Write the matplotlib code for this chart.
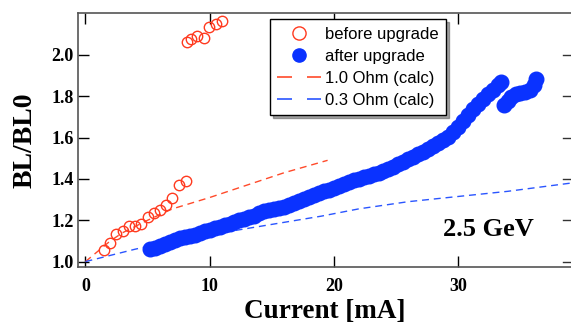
import matplotlib
matplotlib.use("Agg")
import matplotlib.pyplot as plt
from matplotlib.lines import Line2D

# ---- data ----
before_x = [1.5, 2.0, 2.5, 3.0, 3.5, 4.0, 4.5, 5.0, 5.5, 6.0, 6.5, 7.0, 7.55, 8.06,
            8.14, 8.5, 8.97, 9.54, 9.97, 10.5, 10.96]
before_y = [1.057, 1.092, 1.133, 1.148, 1.173, 1.173, 1.180, 1.218, 1.237, 1.250, 1.274,
            1.310, 1.371, 1.392, 2.064, 2.076, 2.093, 2.081, 2.134, 2.150, 2.166]

after_x = [5.2, 5.6, 6.0, 6.4, 6.8, 7.2, 7.6, 8.0, 8.4, 8.8, 9.2, 9.6, 10.0, 10.4, 10.8,
           11.2, 11.6, 12.0, 12.4, 12.8, 13.2, 13.6, 14.0, 14.4, 14.8, 15.2, 15.6, 16.0,
           16.4, 16.8, 17.2, 17.6, 18.0, 18.4, 18.8, 19.2, 19.6, 20.0, 20.4, 20.8, 21.2,
           21.6, 22.0, 22.4, 22.8, 23.2, 23.6, 24.0, 24.4, 24.8, 25.2, 25.6, 26.0, 26.4,
           26.8, 27.2, 27.6, 28.0, 28.4, 28.8, 29.2, 29.6, 30.0, 30.4, 30.8, 31.2, 31.6,
           32.0, 32.4, 32.8, 33.2, 33.5,
           33.7, 34.0, 34.3, 34.7, 35.0, 35.4, 35.8, 36.1, 36.3]
after_y = [1.060, 1.068, 1.077, 1.086, 1.094, 1.104, 1.112, 1.118, 1.124, 1.131, 1.139,
           1.146, 1.153, 1.161, 1.168, 1.176, 1.183, 1.191, 1.199, 1.207, 1.214, 1.222,
           1.233, 1.243, 1.248, 1.253, 1.258, 1.265, 1.273, 1.282, 1.292, 1.302, 1.312,
           1.322, 1.332, 1.340, 1.348, 1.355, 1.364, 1.374, 1.385, 1.394, 1.401, 1.408,
           1.415, 1.423, 1.431, 1.439, 1.447, 1.458, 1.470, 1.482, 1.495, 1.508, 1.520,
           1.532, 1.545, 1.558, 1.572, 1.587, 1.603, 1.625, 1.653, 1.682, 1.710, 1.737,
           1.763, 1.788, 1.810, 1.832, 1.853, 1.870,
           1.758, 1.775, 1.795, 1.812, 1.818, 1.823, 1.832, 1.855, 1.885]

calc10_x = [0, 1, 2, 3, 4, 5, 7, 10, 13, 16, 19.5]
calc10_y = [1.0, 1.05, 1.10, 1.14, 1.17, 1.20, 1.255, 1.31, 1.37, 1.43, 1.49]

calc03_x = [0, 2, 4, 7, 10, 14, 19, 22, 26, 30, 34, 39.1]
calc03_y = [1.0, 1.03, 1.06, 1.10, 1.13, 1.17, 1.22, 1.255, 1.29, 1.315, 1.34, 1.38]

x_ticks = [0, 10, 20, 30]
y_ticks = [1.0, 1.2, 1.4, 1.6, 1.8, 2.0]

RED = "#ff3a1f"
BLUE = "#0a32ff"
RED_L = "#ff4a2a"
BLUE_L = "#2a55ff"

fig = plt.figure(figsize=(5.71, 3.24), dpi=100)
ax = fig.add_axes([0.1366, 0.176, 0.8634, 0.784])

ax.plot(calc10_x, calc10_y, color=RED_L, lw=1.0, dashes=(5, 3.5))
ax.plot(calc03_x, calc03_y, color=BLUE_L, lw=1.0, dashes=(5, 3.5))
ax.plot(after_x, after_y, 'o', color=BLUE, ms=10.5, mec=BLUE, ls='none')
ax.plot(before_x, before_y, 'o', mfc='none', mec=RED, ms=7.5, mew=1.0, ls='none')

ax.set_xlim(-0.6, 39.1)
ax.set_ylim(0.974, 2.203)

serif = "Liberation Serif"
ax.set_xticks(x_ticks)
ax.set_xticklabels([str(v) for v in x_ticks], fontfamily=serif, fontweight='bold', fontsize=13)
ax.set_yticks(y_ticks)
ax.set_yticklabels([f"{v:.1f}" for v in y_ticks], fontfamily=serif, fontweight='bold', fontsize=13)

ax.tick_params(axis='x', direction='in', length=7.8, width=1.0, top=True, pad=8)
ax.tick_params(axis='y', which='major', direction='in', length=7.8, width=1.0, left=True, right=False, pad=3)
for v in y_ticks:
    ax.plot([1 - 0.016, 1.0], [v, v], transform=ax.get_yaxis_transform(), color='#333333',
            lw=1.0, clip_on=False)

for s in ['left', 'bottom', 'top']:
    ax.spines[s].set_color('#555555')
    ax.spines[s].set_linewidth(1.2)
ax.spines['right'].set_visible(False)

ax.set_xlabel("Current [mA]", fontfamily=serif, fontweight='bold', fontsize=19.5, labelpad=2.5)
ax.set_ylabel("BL/BL0", fontfamily=serif, fontweight='bold', fontsize=20, labelpad=10)

ax.text(28.8, 1.153, "2.5 GeV", fontfamily=serif, fontweight='bold', fontsize=19,
        ha='left', va='center')

handles = [
    Line2D([], [], marker='o', mfc='none', mec=RED, ms=9.5, mew=1.0, ls='none'),
    Line2D([], [], marker='o', color=BLUE, ms=9.5, ls='none'),
    Line2D([], [], color=RED_L, lw=1.2, dashes=(9, 9)),
    Line2D([], [], color=BLUE_L, lw=1.2, dashes=(9, 9)),
]
labels = ["before upgrade", "after upgrade", "1.0 Ohm (calc)", "0.3 Ohm (calc)"]
leg = ax.legend(handles, labels, loc='upper left', bbox_to_anchor=(0.389, 0.976),
                borderaxespad=0, frameon=True, fancybox=False, shadow=True,
                edgecolor='black', framealpha=1, handlelength=2.6, handletextpad=0.25,
                borderpad=0.45, labelspacing=0.42,
                prop={'family': 'Liberation Sans', 'size': 12})
leg.get_frame().set_linewidth(1.0)

fig.savefig("out.png", dpi=100)
